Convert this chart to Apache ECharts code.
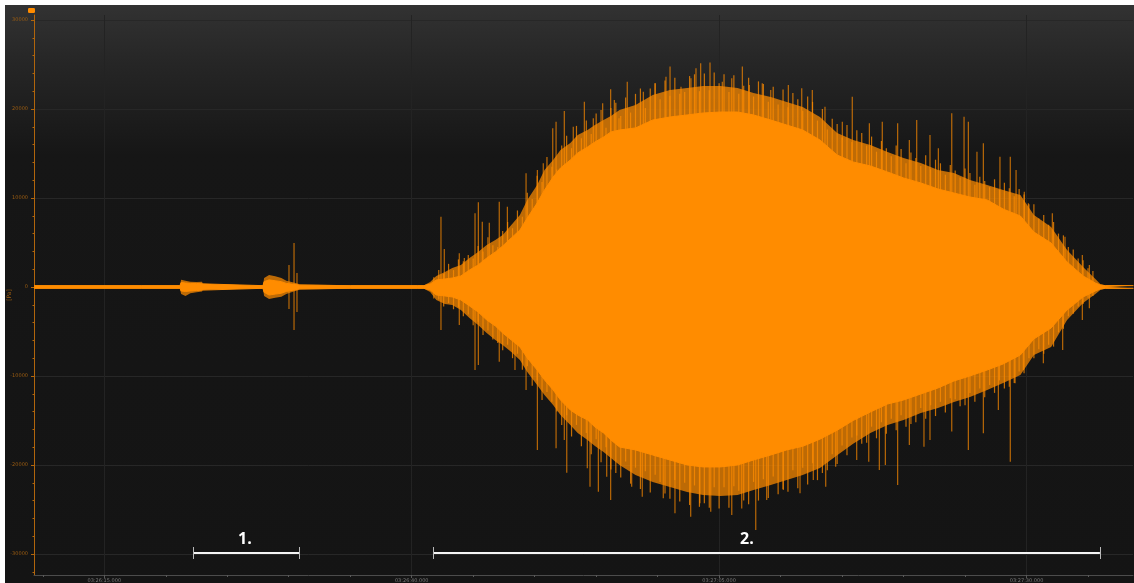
<!DOCTYPE html>
<html>
<head>
<meta charset="utf-8">
<script src="https://cdn.jsdelivr.net/npm/echarts@6/dist/echarts.min.js"></script>
<style>
  html, body { margin: 0; padding: 0; background: #ffffff; }
  #chart { position: absolute; left: 5px; top: 5px; width: 1129px; height: 578px; }
</style>
</head>
<body>
<div id="chart"></div>
<script>
// Time axis values are seconds after 03:25:00.
const envTime = [
  69.3, 78.0, 81.15, 81.25, 81.6, 82.0, 82.5, 82.95, 83.05, 87.9,
  88.0, 88.4, 88.9, 89.4, 89.8, 90.4, 90.9, 91.0, 95.0, 100.5,
  101.0, 101.5, 102.0, 102.7, 103.3, 104.0, 104.7, 105.4, 106.1, 106.8,
  107.4, 108.1, 108.8, 109.4, 110.2, 110.8, 111.5, 112.1, 112.9, 113.5,
  114.3, 114.9, 115.6, 116.2, 116.9, 118.2, 119.6, 121.0, 122.4, 123.7,
  125.1, 126.5, 127.8, 129.2, 130.5, 131.8, 133.2, 134.6, 135.9, 137.3,
  138.7, 140.0, 141.4, 142.8, 144.1, 145.4, 146.8, 148.1, 149.5, 150.6,
  152.0, 153.3, 154.6, 155.6, 156.0, 156.4, 158.7
];
// Solid body of the pressure signal (upper / lower envelope, Pa)
const coreHigh = [
  150, 150, 150, 500, 450, 400, 400, 350, 150, 150,
  600, 800, 700, 600, 400, 300, 200, 150, 150, 150,
  150, 340, 790, 900, 1010, 1240, 1910, 2470, 3260, 3930,
  4610, 5510, 6400, 7750, 9440, 10900, 12360, 13370, 14270, 15060,
  15730, 16290, 16850, 17420, 17640, 17870, 18760, 19100, 19330, 19550,
  19660, 19660, 19330, 18760, 18200, 17640, 16520, 14830, 14050, 13600,
  12920, 12250, 11690, 11010, 10560, 10110, 9780, 8760, 7980, 6180,
  4940, 2810, 1240, 450, 220, 150, 150
];
const coreLow = [
  -150, -150, -150, -450, -500, -450, -400, -350, -150, -150,
  -600, -900, -800, -700, -500, -350, -200, -150, -150, -150,
  -150, -340, -900, -1010, -1120, -1460, -2130, -2810, -3710, -4380,
  -5170, -5960, -6740, -7980, -9330, -10450, -11570, -12700, -13820, -14380,
  -14940, -15730, -16400, -17190, -17980, -18310, -18880, -19440, -20000, -20220,
  -20220, -20000, -19440, -18880, -18310, -17900, -17100, -16100, -15000, -14050,
  -13150, -12700, -12020, -11350, -10560, -10000, -9330, -8650, -7640, -5840,
  -4610, -2580, -1120, -450, -220, -150, -150
];
// Outer, ragged part of the envelope
const fringeHigh = [
  200, 200, 200, 800, 700, 600, 550, 600, 200, 200,
  1000, 1350, 1200, 1000, 700, 500, 300, 200, 200, 200,
  200, 560, 1240, 1690, 2130, 2470, 3260, 3930, 4720, 5280,
  5840, 6970, 8090, 9780, 11460, 13150, 14270, 15390, 16180, 17080,
  17640, 18200, 18760, 19210, 19890, 20450, 21570, 22130, 22360, 22580,
  22580, 22360, 21800, 21350, 20790, 20220, 19100, 17300, 16520, 15960,
  15170, 14490, 13930, 13150, 12810, 12020, 11460, 10900, 10340, 8090,
  6740, 4160, 2250, 900, 340, 200, 200
];
const fringeLow = [
  -200, -200, -200, -800, -1000, -700, -600, -500, -200, -200,
  -1000, -1350, -1200, -1100, -800, -500, -300, -200, -200, -200,
  -200, -560, -1460, -1910, -2020, -2580, -3480, -4270, -5170, -5960,
  -6520, -7300, -8200, -9550, -11010, -12130, -13260, -14380, -15510, -16400,
  -17190, -17870, -18540, -19210, -20000, -21120, -21910, -22470, -23030, -23370,
  -23480, -23370, -22810, -22250, -21690, -21120, -20340, -18900, -17600, -16400,
  -15510, -14940, -14160, -13600, -12920, -12360, -11570, -10790, -9890, -7640,
  -6740, -3710, -1800, -790, -340, -200, -200
];
// Oscillation peaks along the edge of the main event
const tipTime = [
  101.8, 102.2, 102.6, 103.0, 103.4, 103.8, 104.2, 104.6, 105.0, 105.4,
  105.8, 106.2, 106.6, 107.0, 107.4, 107.8, 108.2, 108.6, 109.0, 109.4,
  109.8, 110.2, 110.6, 111.0, 111.4, 111.8, 112.2, 112.6, 113.0, 113.4,
  113.8, 114.2, 114.6, 115.0, 115.4, 115.8, 116.2, 116.6, 117.0, 117.4,
  117.8, 118.2, 118.6, 119.0, 119.4, 119.8, 120.2, 120.6, 121.0, 121.4,
  121.8, 122.2, 122.6, 123.0, 123.4, 123.8, 124.2, 124.6, 125.0, 125.4,
  125.8, 126.2, 126.6, 127.0, 127.4, 127.8, 128.2, 128.6, 129.0, 129.4,
  129.8, 130.2, 130.6, 131.0, 131.4, 131.8, 132.2, 132.6, 133.0, 133.4,
  133.8, 134.2, 134.6, 135.0, 135.4, 135.8, 136.2, 136.6, 137.0, 137.4,
  137.8, 138.2, 138.6, 139.0, 139.4, 139.8, 140.2, 140.6, 141.0, 141.4,
  141.8, 142.2, 142.6, 143.0, 143.4, 143.8, 144.2, 144.6, 145.0, 145.4,
  145.8, 146.2, 146.6, 147.0, 147.4, 147.8, 148.2, 148.6, 149.0, 149.4,
  149.8, 150.2, 150.6, 151.0, 151.4, 151.8, 152.2, 152.6, 153.0, 153.4,
  153.8, 154.2, 154.6, 155.0, 155.4
];
const tipHigh = [
  1100, 1900, 1500, 2600, 1900, 3100, 2900, 3600, 3200, 4600,
  4000, 5600, 4700, 4500, 6300, 7300, 6600, 8600, 7900, 10600,
  9900, 12500, 11800, 14600, 13500, 13200, 15900, 17000, 15600, 18100,
  16700, 18700, 17200, 19500, 19900, 17900, 20100, 20700, 19200, 21300,
  19600, 21700, 22300, 20100, 22300, 22900, 21100, 23200, 21500, 23500,
  21700, 21900, 23700, 23900, 22000, 24000, 22100, 24100, 22900, 23900,
  21900, 23800, 21700, 22600, 23500, 21400, 23100, 22800, 20800, 22500,
  20500, 22200, 20200, 21800, 21100, 19800, 21400, 20800, 18700, 20000,
  17700, 18900, 18300, 16800, 18200, 16300, 17600, 17300, 15900, 16900,
  15200, 16400, 15600, 14700, 15900, 15500, 13900, 15100, 14500, 13600,
  14800, 13200, 14300, 13900, 12600, 13700, 13100, 12300, 13300, 12800,
  11500, 12400, 11900, 11200, 12100, 10900, 11700, 11100, 10200, 11000,
  10400, 9300, 9300, 7700, 8100, 7000, 7300, 6000, 5800, 4500,
  4200, 3200, 3000, 2100, 1800
];
const tipLow = [
  -1300, -1400, -2200, -1800, -2500, -2300, -3300, -3100, -4300, -3900,
  -5400, -4900, -5900, -6300, -7100, -6500, -8000, -7500, -9300, -8900,
  -11100, -10500, -12700, -11800, -12900, -14000, -15500, -14400, -16800, -15500,
  -17900, -16400, -18800, -17100, -19700, -18000, -20500, -20900, -21400, -19600,
  -22100, -20300, -22700, -20700, -23100, -21100, -21900, -23200, -23800, -21700,
  -24100, -22000, -24500, -22300, -24700, -24300, -24800, -22500, -24900, -22500,
  -24800, -22400, -22900, -24000, -24400, -21900, -24000, -21600, -23700, -21300,
  -23300, -22700, -23000, -20600, -22600, -20300, -22200, -19800, -21700, -20900,
  -20600, -18800, -19900, -17800, -18900, -16900, -16700, -17600, -17500, -15700,
  -17000, -15200, -16500, -14800, -16100, -14400, -15700, -15400, -15200, -13600,
  -14800, -13300, -14500, -12900, -14100, -12500, -12600, -13400, -13300, -11900,
  -12900, -11400, -12400, -11000, -11900, -10500, -11400, -11200, -10800, -9500,
  -9700, -8000, -8000, -7000, -7500, -6500, -6700, -5100, -4700, -3300,
  -3000, -2200, -1900, -1200, -1000
];
// Isolated peaks reaching past the envelope
const spikeTime = [
  90.02, 90.02, 90.43, 90.43, 90.67, 90.67,
  102.38, 102.38, 102.65, 103.87, 103.87, 104.28, 105.15, 105.15, 105.42, 105.42,
  105.74, 106.31, 107.12, 107.12, 107.78, 108.40, 109.30, 109.30, 110.22, 110.22,
  110.70, 111.47, 111.74, 111.74, 112.41, 112.41, 112.61, 113.14, 114.04, 114.28,
  114.50, 114.77, 115.18, 115.53, 115.86, 116.18, 116.18, 116.48, 116.86,
  117.53, 117.89, 118.75, 118.84, 119.79, 120.46, 120.68, 121.01, 121.41, 121.90,
  122.69, 122.71, 123.12, 123.44, 123.50, 124.26, 124.32, 125.26, 126.03, 126.03,
  126.84, 126.89, 127.46, 127.98, 128.51, 128.87, 129.20, 130.22, 130.63, 131.58,
  131.72, 132.58, 132.66,
  133.61, 133.67, 134.48, 135.02, 135.83, 136.19, 137.17, 137.22, 138.03, 138.27,
  138.52, 139.52, 139.52, 140.47, 140.47, 141.07, 141.66, 142.15, 142.15, 142.83,
  143.92, 143.92, 144.92, 145.27, 145.27, 145.97, 146.49, 146.49, 147.71, 147.84,
  148.68, 148.68, 149.07, 149.15, 149.74, 149.82, 150.15, 151.37, 152.10, 152.94,
  153.13, 154.54, 154.54, 155.11, 155.11
];
const spikeValue = [
  2470, -2470, 4940, -4830, 1570, -2800,
  7900, -4830, 4270, 3790, -4270, 3260, 8280, -9330, 9520, -8760,
  7340, 7230, 9590, -8390, 9020, -9330, 12780, -11570, 13150, -18310,
  13900, 17830, 18570, -18130, 19780, -17190, -20860, 18010, 20820, -20370,
  -22440, 18950, -23000, 20640, -21310, 22210, -23930, 21010, 18950,
  23070, -22440, -23560, 21950, 22890, -23740, 23630, 24760, -25430, 22510,
  -25810, 23450, 24570, -24310, 25130, 25210, -25250, 23070, 23450, -25620,
  -24880, 24760, 22700, -27300, 22890, -23930, 22130, -22810, 22700, -23180,
  22320, 22130, -21690,
  20260, -22440, -20190, 18570, 21380, -19440, -19630, 18390, -20560, 18570,
  -20000, 18390, -22250, 16520, -17750, 18760, -17940, 17080, -17190, 15580,
  19510, -16250, 19140, 18570, -18310, 15200, 16140, -16440, -13820, 14640,
  14640, -19630, -10820, 13150, -9330, 10710, 9400, -8580, 8280, -7080,
  5650, 3600, -3710, 2470, -2400
];

// Axis ticks
const xMajorTicks = [75, 100, 125, 150];
const xMinorTicks = [70, 75, 80, 85, 90, 95, 100, 105, 110, 115, 120, 125, 130, 135, 140, 145, 150, 155];
const yMajorTicks = [-30000, -20000, -10000, 0, 10000, 20000, 30000];
const yMinorTicks = [
  -32000, -30000, -28000, -26000, -24000, -22000, -20000, -18000, -16000, -14000, -12000,
  -10000, -8000, -6000, -4000, -2000, 0, 2000, 4000, 6000, 8000, 10000,
  12000, 14000, 16000, 18000, 20000, 22000, 24000, 26000, 28000, 30000
];

// Marked sections below the signal
const sectionLabel = ['1.', '2.'];
const sectionStart = [82.23, 101.73];
const sectionEnd = [90.84, 155.97];
const sectionLabelAt = [86.44, 127.26];
const sectionLevel = -29900;

const X_MIN = 69.283, X_MAX = 158.66;
const Y_MIN = -32360, Y_MAX = 30560;
const ORANGE = '#ff8c00';
const AXIS_ORANGE = '#b0650c';

function pairs(xs, ys) { return xs.map((x, i) => [x, ys[i]]); }
function pad(n) { return (n < 10 ? '0' : '') + n; }
function clockLabel(v) {
  const s = Math.round(v);
  return '03:' + pad(25 + Math.floor(s / 60)) + ':' + pad(s % 60) + '.000';
}

const chart = echarts.init(document.getElementById('chart'), null, { renderer: 'canvas' });

const envelopeArea = (name, data, color, z) => ({
  name, type: 'line', data, symbol: 'none', z,
  lineStyle: { width: 0 }, areaStyle: { color, opacity: 1 },
  silent: true
});

chart.setOption({
  animation: false,
  backgroundColor: {
    type: 'linear', x: 0, y: 0, x2: 0, y2: 1,
    colorStops: [
      { offset: 0, color: '#323232' },
      { offset: 0.1, color: '#262626' },
      { offset: 0.26, color: '#161616' },
      { offset: 1, color: '#141414' }
    ]
  },
  grid: { left: 29, right: 1, top: 10, bottom: 8, containLabel: false, outerBoundsMode: 'none' },
  legend: {
    left: 23, top: 3, padding: 0, itemWidth: 7, itemHeight: 5, itemGap: 0,
    icon: 'roundRect', formatter: () => '',
    data: [{ name: 'p', itemStyle: { color: ORANGE } }],
    selectedMode: false
  },
  xAxis: [
    {
      type: 'value', min: X_MIN, max: X_MAX, position: 'bottom',
      axisLine: { show: true, onZero: false, lineStyle: { color: '#4c4c4c', width: 1 } },
      axisTick: { show: true, length: 3, customValues: xMajorTicks, lineStyle: { color: '#5a5a5a' } },
      axisLabel: {
        fontSize: 5, color: '#7a7a7a', margin: 3, fontFamily: 'DejaVu Sans',
        customValues: xMajorTicks, formatter: clockLabel
      },
      splitLine: { show: true, lineStyle: { color: '#232323', width: 1 } }
    },
    {
      type: 'value', min: X_MIN, max: X_MAX, position: 'bottom',
      axisLine: { show: false, onZero: false },
      axisTick: { show: true, length: 2, customValues: xMinorTicks, lineStyle: { color: '#5a5a5a' } },
      axisLabel: { show: false },
      splitLine: { show: false }
    }
  ],
  yAxis: [
    {
      type: 'value', min: Y_MIN, max: Y_MAX, position: 'left',
      name: '[Pa]', nameLocation: 'middle', nameGap: 22, nameRotate: 90, nameMoveOverlap: false,
      nameTextStyle: { fontSize: 6, color: '#9a5c12', fontFamily: 'DejaVu Sans' },
      axisLine: { show: true, onZero: false, lineStyle: { color: AXIS_ORANGE, width: 1 } },
      axisTick: { show: true, length: 3, customValues: yMajorTicks, lineStyle: { color: AXIS_ORANGE } },
      axisLabel: {
        fontSize: 5, color: '#9a5c12', margin: 6, fontFamily: 'DejaVu Sans',
        customValues: yMajorTicks, formatter: v => String(v)
      },
      splitLine: { show: true, lineStyle: { color: '#272727', width: 1 } }
    },
    {
      type: 'value', min: Y_MIN, max: Y_MAX, position: 'left',
      axisLine: { show: false, onZero: false },
      axisTick: { show: true, length: 1.5, customValues: yMinorTicks, lineStyle: { color: AXIS_ORANGE } },
      axisLabel: { show: false },
      splitLine: { show: false }
    }
  ],
  series: [
    envelopeArea('fringeHigh', pairs(envTime, fringeHigh), 'rgba(255,140,0,0.72)', 2),
    envelopeArea('fringeLow', pairs(envTime, fringeLow), 'rgba(255,140,0,0.72)', 2),
    {
      name: 'tips', type: 'bar', barWidth: 1.2, barGap: '-100%', z: 3, silent: true,
      data: pairs(tipTime, tipHigh).concat(pairs(tipTime, tipLow)),
      itemStyle: { color: 'rgba(255,140,0,0.75)' }
    },
    {
      name: 'spikes', type: 'bar', barWidth: 1.2, barGap: '-100%', z: 3, silent: true,
      data: pairs(spikeTime, spikeValue),
      itemStyle: { color: 'rgba(255,140,0,0.7)' }
    },
    {
      name: 'p', type: 'line', data: pairs(envTime, coreHigh), symbol: 'none', z: 4,
      lineStyle: { width: 1, color: ORANGE }, areaStyle: { color: ORANGE, opacity: 1 },
      itemStyle: { color: ORANGE }, silent: true
    },
    {
      name: 'pLow', type: 'line', data: pairs(envTime, coreLow), symbol: 'none', z: 4,
      lineStyle: { width: 1, color: ORANGE }, areaStyle: { color: ORANGE, opacity: 1 },
      silent: true
    },
    {
      name: 'sections', type: 'custom', z: 10, silent: true,
      data: sectionLabel.map((_, i) => [sectionStart[i], sectionEnd[i], sectionLabelAt[i], sectionLevel]),
      renderItem: (params, api) => {
        const a = api.coord([api.value(0), api.value(3)]);
        const b = api.coord([api.value(1), api.value(3)]);
        const c = api.coord([api.value(2), api.value(3)]);
        const y = Math.round(a[1]);
        return {
          type: 'group',
          children: [
            { type: 'line', shape: { x1: a[0], y1: y, x2: b[0], y2: y }, style: { stroke: '#f4f4f4', lineWidth: 2 } },
            { type: 'line', shape: { x1: Math.round(a[0]) + 0.5, y1: y - 6, x2: Math.round(a[0]) + 0.5, y2: y + 6 }, style: { stroke: '#b8b8b8', lineWidth: 1 } },
            { type: 'line', shape: { x1: Math.round(b[0]) + 0.5, y1: y - 6, x2: Math.round(b[0]) + 0.5, y2: y + 6 }, style: { stroke: '#b8b8b8', lineWidth: 1 } },
            {
              type: 'text', x: c[0], y: y - 6,
              style: {
                text: sectionLabel[params.dataIndex], fill: '#ffffff',
                font: 'bold 16px "Open Sans", "DejaVu Sans", sans-serif',
                align: 'center', verticalAlign: 'bottom'
              }
            }
          ]
        };
      }
    }
  ]
});
</script>
</body>
</html>
